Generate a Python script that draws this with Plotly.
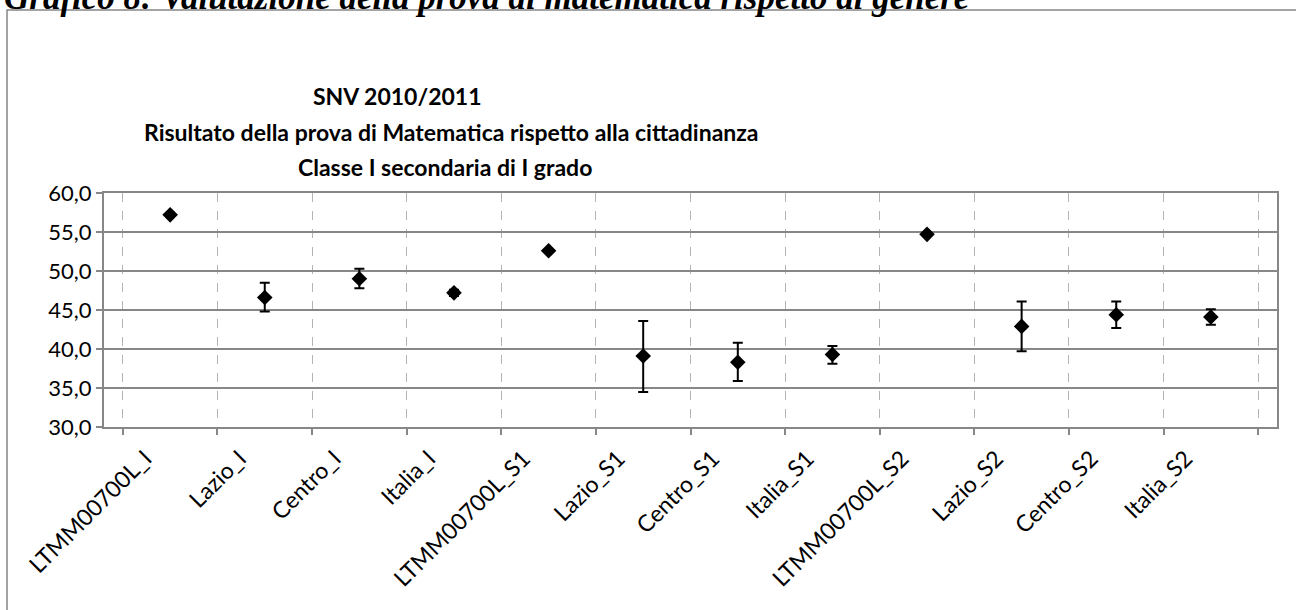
import plotly.graph_objects as go

categories = [
    "LTMM00700L_I", "Lazio_I", "Centro_I", "Italia_I",
    "LTMM00700L_S1", "Lazio_S1", "Centro_S1", "Italia_S1",
    "LTMM00700L_S2", "Lazio_S2", "Centro_S2", "Italia_S2",
]
means = [57.2, 46.6, 49.0, 47.2, 52.6, 39.1, 38.3, 39.3, 54.7, 42.9, 44.4, 44.1]
upper = [57.2, 48.5, 50.3, 47.6, 52.6, 43.6, 40.8, 40.4, 54.7, 46.1, 46.1, 45.1]
lower = [57.2, 44.8, 47.8, 46.8, 52.6, 34.5, 35.9, 38.1, 54.7, 39.7, 42.7, 43.1]

title_lines = [
    "SNV 2010/2011",
    "Risultato della prova di Matematica rispetto alla cittadinanza",
    "Classe I secondaria di I grado",
]
heading = "Grafico 8: Valutazione della prova di matematica rispetto al genere"

err_plus = [u - m for u, m in zip(upper, means)]
err_minus = [m - l for m, l in zip(means, lower)]

W, H = 1296, 610
L, T, R, B = 104, 193, 19, 183
PW, PH = W - L - R, H - T - B


def px_x(x):
    return (x - L) / PW


def px_y(y):
    return 1 - (y - T) / PH


fig = go.Figure()
fig.add_trace(
    go.Scatter(
        x=categories,
        y=means,
        mode="markers",
        marker=dict(symbol="diamond", size=12, color="black"),
        error_y=dict(
            type="data",
            symmetric=False,
            array=err_plus,
            arrayminus=err_minus,
            color="black",
            thickness=2,
            width=5,
        ),
        showlegend=False,
    )
)

font_family = "Lato, 'Open Sans', sans-serif"

fig.update_layout(
    width=W,
    height=H,
    margin=dict(l=L, r=R, t=T, b=B, autoexpand=False),
    paper_bgcolor="white",
    plot_bgcolor="white",
    separators=",.",
    font=dict(family=font_family, size=21, color="black"),
    xaxis=dict(
        type="category",
        tickson="boundaries",
        showgrid=True,
        gridcolor="#b4b4b4",
        griddash="dash",
        gridwidth=1,
        showline=True,
        linecolor="#878787",
        linewidth=2,
        mirror=True,
        ticks="outside",
        ticklen=6,
        tickcolor="#878787",
        tickwidth=2,
        tickangle=-45,
        ticklabelshift=-25,
        ticklabelstandoff=7,
        tickfont=dict(size=23),
    ),
    yaxis=dict(
        range=[30, 60],
        dtick=5,
        tickformat=".1f",
        showgrid=True,
        gridcolor="#878787",
        gridwidth=2,
        showline=True,
        linecolor="#878787",
        linewidth=2,
        mirror=True,
        ticks="outside",
        ticklen=6,
        tickcolor="#878787",
        tickwidth=2,
        zeroline=False,
        tickfont=dict(size=22),
    ),
)

# title rows, positioned in page pixels
title_pos = [(397, 96), (451, 132), (445, 167)]
for text, (x, y) in zip(title_lines, title_pos):
    fig.add_annotation(
        x=px_x(x),
        y=px_y(y),
        xref="paper",
        yref="paper",
        text=f"<b>{text}</b>",
        showarrow=False,
        xanchor="center",
        yanchor="middle",
        font=dict(size=23, family=font_family),
    )

# page heading above the chart box, cut off at the top edge
fig.add_annotation(
    x=px_x(2),
    y=px_y(-2),
    xref="paper",
    yref="paper",
    text=f"<b><i>{heading}</i></b>",
    showarrow=False,
    xanchor="left",
    yanchor="middle",
    font=dict(size=35, family="'Liberation Serif', serif"),
)

# outer chart border
fig.add_shape(
    type="rect",
    xref="paper",
    yref="paper",
    x0=px_x(7),
    x1=px_x(W + 10),
    y0=px_y(H + 10),
    y1=px_y(10),
    line=dict(color="#878787", width=1.5),
)

fig.write_html(
    "out.html",
    config={"displayModeBar": False},
    post_script="document.body.style.margin = '0';",
)
